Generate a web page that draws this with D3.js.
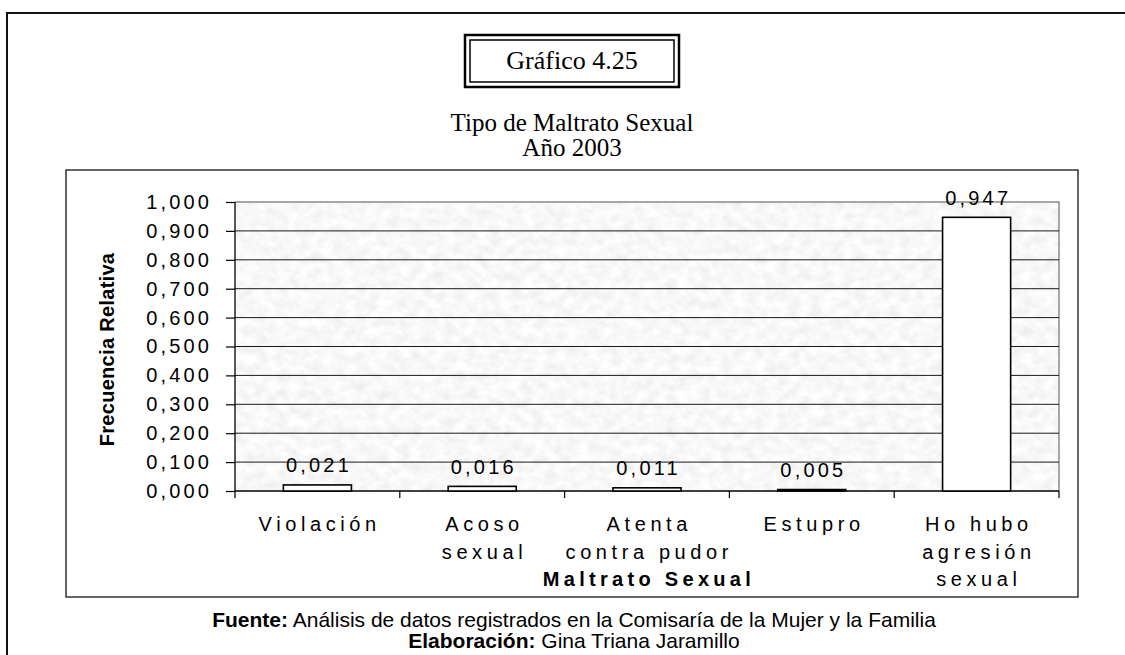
<!DOCTYPE html>
<html>
<head>
<meta charset="utf-8">
<script src="https://cdn.jsdelivr.net/npm/d3@7"></script>
<style>
  body { margin: 0; background: #fff; }
  svg { display: block; }
</style>
</head>
<body>
<script>
// datos del gráfico
const categories = [
  ["Violación"],
  ["Acoso", "sexual"],
  ["Atenta", "contra pudor"],
  ["Estupro"],
  ["Ho hubo", "agresión", "sexual"]
];
const values = [0.021, 0.016, 0.011, 0.005, 0.947];
const yTicks = [0, 0.1, 0.2, 0.3, 0.4, 0.5, 0.6, 0.7, 0.8, 0.9, 1.0];

const W = 1125, H = 655;

// formato con coma decimal
const fmt = d3.formatLocale({ decimal: ",", thousands: ".", grouping: [3], currency: ["", ""] }).format(".3f");

const svg = d3.select("body").append("svg")
  .attr("width", W)
  .attr("height", H);

// textura gris del área de trazado
const defs = svg.append("defs");
const filt = defs.append("filter")
  .attr("id", "granito")
  .attr("x", 0).attr("y", 0).attr("width", 1).attr("height", 1);
filt.append("feTurbulence")
  .attr("type", "fractalNoise")
  .attr("baseFrequency", "0.09 0.11")
  .attr("numOctaves", 4)
  .attr("seed", 7);
filt.append("feColorMatrix")
  .attr("type", "matrix")
  .attr("values", "0.24 0 0 0 0.82  0.24 0 0 0 0.82  0.24 0 0 0 0.82  0 0 0 0 1");

// marco exterior
svg.append("rect")
  .attr("x", 7).attr("y", 13)
  .attr("width", 1200).attr("height", 700)
  .attr("fill", "none")
  .attr("stroke", "#111")
  .attr("stroke-width", 2);

// recuadro "Gráfico 4.25" con doble borde
svg.append("rect")
  .attr("x", 465).attr("y", 35)
  .attr("width", 214).attr("height", 52)
  .attr("fill", "none").attr("stroke", "#000").attr("stroke-width", 2.5);
svg.append("rect")
  .attr("x", 470).attr("y", 40)
  .attr("width", 204).attr("height", 42)
  .attr("fill", "none").attr("stroke", "#000").attr("stroke-width", 1.5);
svg.append("text")
  .attr("x", 572).attr("y", 69)
  .attr("text-anchor", "middle")
  .attr("font-family", "Liberation Serif, Times New Roman, serif")
  .attr("font-size", 26)
  .text("Gráfico 4.25");

// títulos
svg.append("text")
  .attr("x", 572).attr("y", 131)
  .attr("text-anchor", "middle")
  .attr("font-family", "Liberation Serif, Times New Roman, serif")
  .attr("font-size", 25)
  .text("Tipo de Maltrato Sexual");
svg.append("text")
  .attr("x", 572).attr("y", 156)
  .attr("text-anchor", "middle")
  .attr("font-family", "Liberation Serif, Times New Roman, serif")
  .attr("font-size", 25)
  .text("Año 2003");

// marco del gráfico
svg.append("rect")
  .attr("x", 66).attr("y", 170)
  .attr("width", 1012).attr("height", 427)
  .attr("fill", "#fff")
  .attr("stroke", "#333")
  .attr("stroke-width", 1.5);

// escalas
const x = d3.scaleBand()
  .domain(d3.range(values.length))
  .range([235, 1059]);
const y = d3.scaleLinear()
  .domain([0, 1])
  .range([491, 202]);

const barW = x.bandwidth() * 0.413;
const ls = 3.2;     // espaciado de números
const lsCat = 4.6;  // espaciado de categorías

// fondo con textura
svg.append("rect")
  .attr("x", x.range()[0]).attr("y", y(1))
  .attr("width", x.range()[1] - x.range()[0])
  .attr("height", y(0) - y(1))
  .attr("fill", "#ececec")
  .attr("filter", "url(#granito)");

// borde gris superior y derecho
svg.append("path")
  .attr("d", `M${x.range()[0]},${y(1)}H${x.range()[1]}V${y(0)}`)
  .attr("fill", "none")
  .attr("stroke", "#8a8a8a")
  .attr("stroke-width", 1.5);

// líneas de división
svg.append("g")
  .selectAll("line")
  .data(yTicks.filter(d => d > 0 && d < 1))
  .enter()
  .append("line")
  .attr("x1", x.range()[0]).attr("x2", x.range()[1])
  .attr("y1", d => y(d)).attr("y2", d => y(d))
  .attr("stroke", "#1a1a1a")
  .attr("stroke-width", 1);

// eje Y
const yAxis = svg.append("g")
  .attr("transform", `translate(${x.range()[0]},0)`)
  .call(d3.axisLeft(y).tickValues(yTicks).tickFormat(fmt).tickSize(9).tickSizeOuter(0));
yAxis.select(".domain").attr("stroke", "#000").attr("stroke-width", 1.3)
  .attr("d", `M0,${y(1)}V${y(0) + 7}`);
yAxis.selectAll(".tick line").attr("stroke", "#000").attr("stroke-width", 1.2);
yAxis.selectAll(".tick text")
  .attr("x", -26 + ls)
  .attr("font-family", "Arial, Liberation Sans, sans-serif")
  .attr("font-size", 20)
  .attr("letter-spacing", ls)
  .attr("fill", "#000");

// eje X: línea base y marcas entre categorías
svg.append("line")
  .attr("x1", x.range()[0]).attr("x2", x.range()[1])
  .attr("y1", y(0)).attr("y2", y(0))
  .attr("stroke", "#000").attr("stroke-width", 1.3);
const bounds = x.domain().map(d => x(d)).concat([x.range()[1]]);
svg.append("g")
  .selectAll("line")
  .data(bounds.slice(1))
  .enter()
  .append("line")
  .attr("x1", d => d).attr("x2", d => d)
  .attr("y1", y(0)).attr("y2", y(0) + 7)
  .attr("stroke", "#000").attr("stroke-width", 1.2);

// barras
svg.append("g")
  .selectAll("rect")
  .data(values)
  .enter()
  .append("rect")
  .attr("x", (d, i) => x(i) + (x.bandwidth() - barW) / 2)
  .attr("y", d => y(d))
  .attr("width", barW)
  .attr("height", d => y(0) - y(d))
  .attr("fill", "#fff")
  .attr("stroke", "#000")
  .attr("stroke-width", 1.6);

// etiquetas de valores
svg.append("g")
  .selectAll("text")
  .data(values)
  .enter()
  .append("text")
  .attr("x", (d, i) => x(i) + x.bandwidth() / 2 + ls / 2)
  .attr("y", d => y(d) - 12.5)
  .attr("text-anchor", "middle")
  .attr("font-family", "Arial, Liberation Sans, sans-serif")
  .attr("font-size", 20)
  .attr("letter-spacing", ls)
  .text(d => fmt(d));

// etiquetas de categorías
const catLabels = svg.append("g")
  .selectAll("text")
  .data(categories)
  .enter()
  .append("text")
  .attr("text-anchor", "middle")
  .attr("font-family", "Arial, Liberation Sans, sans-serif")
  .attr("font-size", 20)
  .attr("letter-spacing", lsCat);
catLabels.selectAll("tspan")
  .data((d, i) => d.map(t => ({ t: t, i: i })))
  .enter()
  .append("tspan")
  .attr("x", d => x(d.i) + x.bandwidth() / 2 + lsCat / 2)
  .attr("y", (d, j) => 531 + j * 27.5)
  .text(d => d.t);

// títulos de ejes
svg.append("text")
  .attr("x", (x.range()[0] + x.range()[1]) / 2 + 2)
  .attr("y", 586)
  .attr("text-anchor", "middle")
  .attr("font-family", "Arial, Liberation Sans, sans-serif")
  .attr("font-size", 20)
  .attr("font-weight", "bold")
  .attr("letter-spacing", 4.3)
  .text("Maltrato Sexual");

svg.append("text")
  .attr("transform", `translate(114,${(y(0) + y(1)) / 2 + 3}) rotate(-90)`)
  .attr("text-anchor", "middle")
  .attr("font-family", "Arial, Liberation Sans, sans-serif")
  .attr("font-size", 20)
  .attr("font-weight", "bold")
  .attr("letter-spacing", 0.3)
  .text("Frecuencia Relativa");

// pie: fuente y elaboración
const foot1 = svg.append("text")
  .attr("x", 574).attr("y", 627)
  .attr("text-anchor", "middle")
  .attr("font-family", "Arial, Liberation Sans, sans-serif")
  .attr("font-size", 21);
foot1.append("tspan").attr("font-weight", "bold").text("Fuente:");
foot1.append("tspan").text(" Análisis de datos registrados en la Comisaría de la Mujer y la Familia");

const foot2 = svg.append("text")
  .attr("x", 574).attr("y", 648)
  .attr("text-anchor", "middle")
  .attr("font-family", "Arial, Liberation Sans, sans-serif")
  .attr("font-size", 21);
foot2.append("tspan").attr("font-weight", "bold").text("Elaboración:");
foot2.append("tspan").text(" Gina Triana Jaramillo");
</script>
</body>
</html>
